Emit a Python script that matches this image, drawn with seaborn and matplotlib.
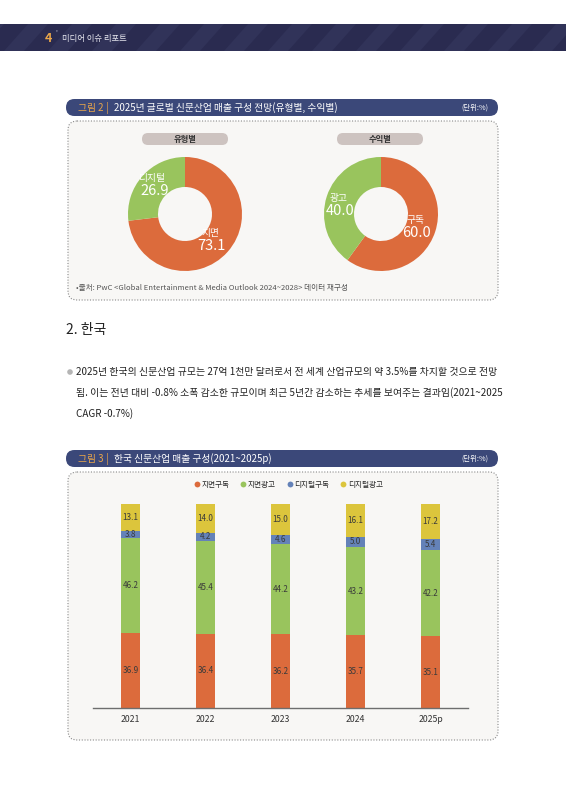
import numpy as np
import matplotlib
matplotlib.use("Agg")
import matplotlib.pyplot as plt
import seaborn as sns
from matplotlib.patches import FancyBboxPatch, Rectangle, Polygon, Circle
from matplotlib.lines import Line2D

# ---- data ----
type_labels = ["지면", "디지털"]
type_values = [73.1, 26.9]
rev_labels = ["구독", "광고"]
rev_values = [60.0, 40.0]

years = ["2021", "2022", "2023", "2024", "2025p"]
series_names = ["지면구독", "지면광고", "디지털구독", "디지털광고"]
print_sub = [36.9, 36.4, 36.2, 35.7, 35.1]
print_ad = [46.2, 45.4, 44.2, 43.2, 42.2]
digital_sub = [3.8, 4.2, 4.6, 5.0, 5.4]
digital_ad = [13.1, 14.0, 15.0, 16.1, 17.2]

ORANGE = "#dc6b3c"
GREEN = "#99c45d"
BLUE = "#6482b8"
YELLOW = "#dcc53c"
NAVY = "#3b4879"
GOLD = "#eaa64a"
BOXBG = "#f8f7f5"

sns.set_theme(style="white")
plt.rcParams["font.family"] = ["Noto Sans CJK KR", "DejaVu Sans"]

W, H = 566, 800
fig = plt.figure(figsize=(W / 100, H / 100), dpi=100)
fig.patch.set_facecolor("white")

# page overlay in pixel coords
pg = fig.add_axes([0, 0, 1, 1], zorder=0)
pg.set_xlim(0, W)
pg.set_ylim(H, 0)
pg.axis("off")

# header band with diagonal stripes
band = Rectangle((0, 24), W, 27, facecolor="#2a2b50", edgecolor="none")
pg.add_patch(band)
for x0 in range(-40, W + 40, 44):
    stripe = Polygon([(x0, 51), (x0 + 20, 51), (x0 + 44, 24), (x0 + 24, 24)],
                     closed=True, facecolor="#313359", edgecolor="none")
    pg.add_patch(stripe)
    stripe.set_clip_path(band)
pg.text(48, 38.5, "4", color=GOLD, fontsize=9, fontweight="bold", va="center", ha="center")
pg.text(56, 34, "'", color="#c8c8d8", fontsize=5, va="center", ha="center")
pg.text(62, 38.5, "미디어 이슈 리포트", color="#e6e6ee", fontsize=6, va="center")


def title_bar(y, num, title):
    pg.add_patch(FancyBboxPatch((66, y), 432, 17, boxstyle="round,pad=0,rounding_size=8.5",
                                facecolor=NAVY, edgecolor="none"))
    pg.text(78, y + 8.7, f"그림 {num}", color=GOLD, fontsize=7, va="center")
    pg.text(106, y + 8.7, "|", color=GOLD, fontsize=7, va="center")
    pg.text(114, y + 8.7, title, color="white", fontsize=7, va="center")
    pg.text(488, y + 8.7, "(단위:%)", color="white", fontsize=5.3, va="center", ha="right")


def dotted_box(y0, y1):
    pg.add_patch(FancyBboxPatch((68, y0), 430, y1 - y0, boxstyle="round,pad=0,rounding_size=9",
                                facecolor=BOXBG, edgecolor="#8a8a8a", linestyle=(0, (1, 1.5)),
                                linewidth=0.8))


# ---- figure 2 ----
title_bar(99, 2, "2025년 글로벌 신문산업 매출 구성 전망(유형별, 수익별)")
dotted_box(121, 300)

for cx, name in [(185, "유형별"), (380, "수익별")]:
    pg.add_patch(FancyBboxPatch((cx - 43, 133), 86, 12, boxstyle="round,pad=0,rounding_size=6",
                                facecolor="#cdc3c0", edgecolor="none"))
    pg.text(cx, 139.3, name, fontsize=6, fontweight="bold", color="#333333", ha="center", va="center")

pg.text(76, 288, "•출처: PwC <Global Entertainment & Media Outlook 2024~2028> 데이터 재구성",
        fontsize=5.5, color="#555555", va="center")


def donut(cx, cy, values, labels, label_pos):
    r = 57
    ax = fig.add_axes([(cx - r) / W, 1 - (cy + r) / H, 2 * r / W, 2 * r / H], zorder=2)
    ax.pie(values, colors=[ORANGE, GREEN], startangle=90, counterclock=False,
           wedgeprops=dict(width=30 / 57, edgecolor="none"))
    ax.set_xlim(-1, 1)
    ax.set_ylim(-1, 1)
    ax.set_aspect("auto")
    ax.axis("off")
    for lab, val, (lx, ly) in zip(labels, values, label_pos):
        ax.text(lx, ly, lab, color="white", fontsize=7, ha="center", va="center")
        ax.text(lx + 0.03, ly - 0.23, f"{val:.1f}", color="white", fontsize=10.5,
                fontweight="medium", ha="center", va="center")


donut(185, 214, type_values, type_labels, [(0.44, -0.33), (-0.57, 0.63)])
donut(381, 214, rev_values, rev_labels, [(0.60, -0.11), (-0.74, 0.28)])

# ---- section text ----
pg.text(66, 330, "2. 한국", fontsize=10, color="#222222", va="center")
pg.add_patch(Circle((70, 372), 2.8, facecolor="#b5b5b5", edgecolor="none"))
lines = [
    "2025년 한국의 신문산업 규모는 27억 1천만 달러로서 전 세계 산업규모의 약 3.5%를 차지할 것으로 전망",
    "됨. 이는 전년 대비 -0.8% 소폭 감소한 규모이며 최근 5년간 감소하는 추세를 보여주는 결과임(2021~2025",
    "CAGR -0.7%)",
]
for i, ln in enumerate(lines):
    pg.text(76, 372 + i * 21, ln, fontsize=7.1, color="#222222", va="center")

# ---- figure 3 ----
title_bar(450, 3, "한국 신문산업 매출 구성(2021~2025p)")
dotted_box(472, 740)

bx0, bx1, by0, by1 = 93, 468, 504, 708
ax = fig.add_axes([bx0 / W, 1 - by1 / H, (bx1 - bx0) / W, (by1 - by0) / H], zorder=2)
ax.set_facecolor("none")

stack = [print_sub, print_ad, digital_sub, digital_ad]
colors = [ORANGE, GREEN, BLUE, YELLOW]
bottom = np.zeros(len(years))
for vals, c in zip(stack, colors):
    vals = np.array(vals)
    sns.barplot(x=years, y=vals, bottom=bottom, color=c, width=0.25, saturation=1,
                errorbar=None, order=years, ax=ax, linewidth=0)
    for i, v in enumerate(vals):
        ax.text(i, bottom[i] + v / 2, f"{v:.1f}", ha="center", va="center",
                fontsize=5.8, color="#3a3a3a")
    bottom = bottom + vals

ax.set_xlim(-0.5, 4.5)
ax.set_ylim(0, 100)
ax.set_yticks([])
ax.set_xlabel("")
ax.set_ylabel("")
for s in ["top", "right", "left"]:
    ax.spines[s].set_visible(False)
ax.spines["bottom"].set_color("#6e6e6e")
ax.spines["bottom"].set_linewidth(1)
ax.tick_params(axis="x", length=0, labelsize=6.3, labelcolor="#333333", pad=5)

handles = [Line2D([0], [0], marker="o", linestyle="", markersize=4.2,
                  markerfacecolor=c, markeredgecolor="none") for c in colors]
fig.legend(handles, series_names, loc="center", bbox_to_anchor=(288 / W, 1 - 485 / H),
           ncol=4, frameon=False, fontsize=5.5, handletextpad=0.1, columnspacing=1.3,
           handlelength=1)

fig.savefig("out.png", dpi=100, facecolor="white")
